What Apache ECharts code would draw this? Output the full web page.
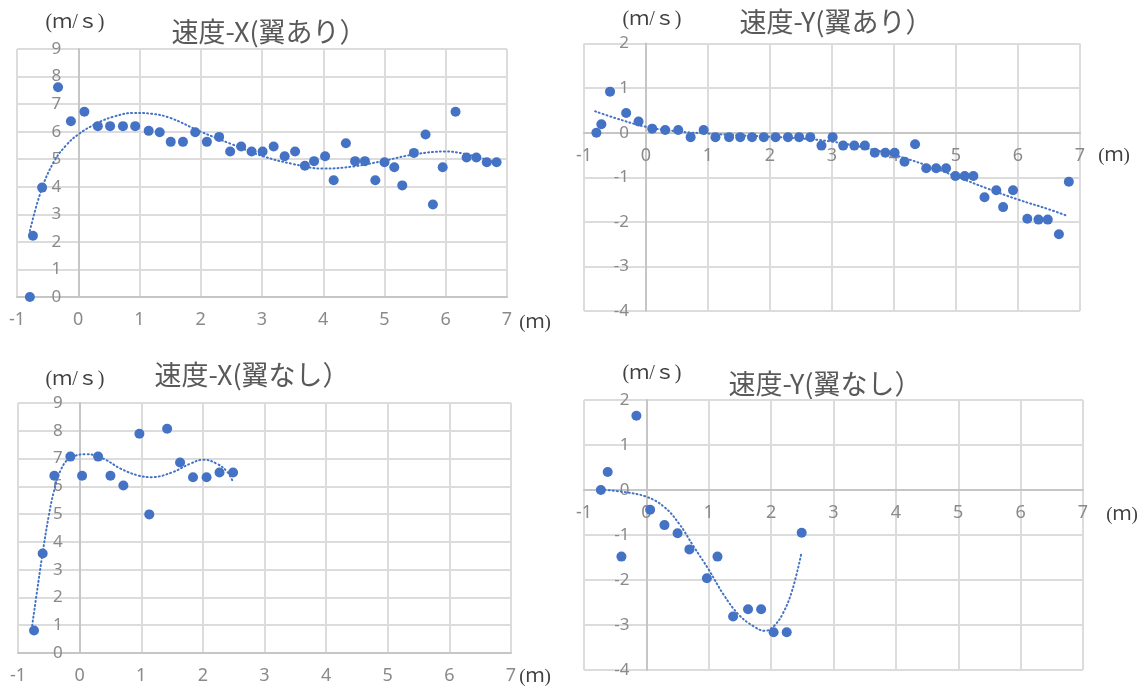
<!DOCTYPE html>
<html>
<head>
<meta charset="utf-8">
<script src="https://cdn.jsdelivr.net/npm/echarts@6/dist/echarts.min.js"></script>
<style>
  html, body { margin: 0; padding: 0; background: #fff; }
  #chart { width: 1145px; height: 690px; }
</style>
</head>
<body>
<div id="chart"></div>
<script>
// 速度-X(翼あり)
const posXWing = [-0.79, -0.74, -0.59, -0.33, -0.12, 0.10, 0.32, 0.52, 0.73, 0.93, 1.15, 1.33, 1.51, 1.71, 1.91, 2.10, 2.30, 2.48, 2.66, 2.83, 3.01, 3.19, 3.37, 3.54, 3.70, 3.85, 4.03, 4.17, 4.37, 4.52, 4.68, 4.85, 5.00, 5.16, 5.29, 5.48, 5.67, 5.79, 5.95, 6.16, 6.34, 6.50, 6.67, 6.83]
const velXWing = [0, 2.22, 3.97, 7.61, 6.38, 6.72, 6.20, 6.20, 6.20, 6.20, 6.03, 5.98, 5.63, 5.63, 5.98, 5.63, 5.81, 5.28, 5.46, 5.28, 5.28, 5.46, 5.11, 5.28, 4.76, 4.93, 5.11, 4.24, 5.58, 4.93, 4.93, 4.24, 4.89, 4.71, 4.05, 5.23, 5.90, 3.36, 4.71, 6.72, 5.06, 5.06, 4.89, 4.89]
const trendPosXWing = [-0.79, -0.6, -0.4, -0.2, 0, 0.3, 0.6, 0.9, 1.2, 1.5, 2.0, 2.5, 3.0, 3.5, 4.0, 4.5, 5.0, 5.5, 6.0, 6.3, 6.6, 6.83]
const trendVelXWing = [2.4, 3.9, 4.9, 5.5, 5.9, 6.3, 6.56, 6.68, 6.65, 6.5, 6.0, 5.55, 5.12, 4.83, 4.66, 4.74, 4.95, 5.18, 5.28, 5.2, 5.03, 4.85]

// 速度-Y(翼あり)
const posYWing = [-0.80, -0.72, -0.58, -0.32, -0.12, 0.10, 0.31, 0.52, 0.72, 0.93, 1.12, 1.34, 1.52, 1.71, 1.90, 2.09, 2.29, 2.47, 2.65, 2.83, 3.01, 3.18, 3.36, 3.53, 3.69, 3.86, 4.01, 4.17, 4.34, 4.52, 4.68, 4.84, 4.99, 5.14, 5.28, 5.46, 5.65, 5.76, 5.92, 6.15, 6.33, 6.48, 6.66, 6.82]
const velYWing = [0, 0.19, 0.92, 0.44, 0.25, 0.09, 0.06, 0.06, -0.10, 0.06, -0.10, -0.10, -0.10, -0.10, -0.10, -0.10, -0.10, -0.10, -0.10, -0.29, -0.10, -0.29, -0.29, -0.29, -0.45, -0.45, -0.45, -0.65, -0.26, -0.80, -0.80, -0.80, -0.97, -0.97, -0.97, -1.45, -1.29, -1.67, -1.29, -1.93, -1.95, -1.95, -2.28, -1.10]
const trendPosYWing = [-0.82, -0.5, 0, 0.5, 1, 1.5, 2, 2.5, 3, 3.5, 4, 4.5, 5, 5.5, 6, 6.5, 6.8]
const trendVelYWing = [0.48, 0.33, 0.13, 0.03, -0.02, -0.06, -0.09, -0.13, -0.2, -0.33, -0.5, -0.72, -0.98, -1.25, -1.5, -1.72, -1.87]

// 速度-X(翼なし)
const posXNoWing = [-0.74, -0.60, -0.41, -0.15, 0.04, 0.30, 0.50, 0.71, 0.97, 1.13, 1.42, 1.63, 1.84, 2.06, 2.27, 2.49]
const velXNoWing = [0.81, 3.58, 6.38, 7.07, 6.38, 7.07, 6.38, 6.03, 7.89, 4.99, 8.07, 6.86, 6.33, 6.33, 6.50, 6.50]
const trendPosXNoWing = [-0.77, -0.67, -0.59, -0.5, -0.42, -0.31, -0.17, 0.11, 0.39, 0.67, 0.95, 1.17, 1.51, 1.79, 2.01, 2.23, 2.4, 2.49]
const trendVelXNoWing = [0.99, 2.55, 3.75, 4.95, 5.79, 6.57, 6.99, 7.16, 6.99, 6.63, 6.39, 6.33, 6.51, 6.81, 6.96, 6.81, 6.51, 6.15]

// 速度-Y(翼なし)
const posYNoWing = [-0.73, -0.62, -0.40, -0.16, 0.06, 0.29, 0.50, 0.69, 0.97, 1.14, 1.39, 1.63, 1.84, 2.04, 2.25, 2.49]
const velYNoWing = [0, 0.40, -1.48, 1.65, -0.44, -0.78, -0.96, -1.32, -1.96, -1.48, -2.81, -2.65, -2.65, -3.16, -3.16, -0.95]
const trendPosYNoWing = [-0.73, -0.38, 0, 0.28, 0.52, 0.76, 1.0, 1.24, 1.48, 1.72, 1.9, 2.04, 2.19, 2.34, 2.48]
const trendVelYNoWing = [0.01, -0.04, -0.15, -0.37, -0.74, -1.26, -1.77, -2.33, -2.77, -3.03, -3.13, -3.03, -2.74, -2.22, -1.44]

const titles = ['速度-X(翼あり）', '速度-Y(翼あり）', '速度-X(翼なし）', '速度-Y(翼なし）']
const xRange = [-1, 7]
const yRangeX = [0, 9]
const yRangeY = [-4, 2]

const BLUE = '#4472C4'
const zip = (xs, ys) => xs.map((x, i) => [x, ys[i]])

const panels = [
  { grid: { left: 17, top: 49, width: 490, height: 248 }, y: yRangeX, pts: zip(posXWing, velXWing), trend: zip(trendPosXWing, trendVelXWing),
    title: [269, 32], unitY: [75, 23], unitX: [535, 323] },
  { grid: { left: 584, top: 43.5, width: 496, height: 267.5 }, y: yRangeY, pts: zip(posYWing, velYWing), trend: zip(trendPosYWing, trendVelYWing),
    title: [836, 22], unitY: [652, 20], unitX: [1114, 156] },
  { grid: { left: 18, top: 403, width: 493, height: 250 }, y: yRangeX, pts: zip(posXNoWing, velXNoWing), trend: zip(trendPosXNoWing, trendVelXNoWing),
    title: [252, 375], unitY: [75, 380], unitX: [535, 677] },
  { grid: { left: 584, top: 400, width: 499, height: 270 }, y: yRangeY, pts: zip(posYNoWing, velYNoWing), trend: zip(trendPosYNoWing, trendVelYNoWing),
    title: [825, 384], unitY: [652, 374], unitX: [1122, 515] }
]

const labelFont = 'Noto Sans, sans-serif'
const splitStyle = { lineStyle: { color: '#dcdcdc', width: 2 } }
const axisLineStyle = { show: true, onZero: false, lineStyle: { color: '#c6c6c6', width: 2 } }

// Excel puts each axis at the other's zero: shift the axes inward by that distance
const zeroShiftX = p => p.grid.width * (0 - xRange[0]) / (xRange[1] - xRange[0])
const zeroShiftY = p => p.grid.height * (0 - p.y[0]) / (p.y[1] - p.y[0])

let option = {
  animation: false,
  backgroundColor: '#fff',
  grid: panels.map(p => p.grid),
  xAxis: panels.map((p, i) => ({
    type: 'value', gridIndex: i, min: xRange[0], max: xRange[1], interval: 1,
    position: 'bottom', offset: -zeroShiftY(p),
    axisLine: axisLineStyle,
    axisTick: { show: false },
    axisLabel: { fontSize: 18, color: '#8a8a8a', margin: 14, fontFamily: labelFont },
    splitLine: splitStyle
  })),
  yAxis: panels.map((p, i) => ({
    type: 'value', gridIndex: i, min: p.y[0], max: p.y[1], interval: 1,
    position: 'left', offset: -zeroShiftX(p),
    axisLine: axisLineStyle,
    axisTick: { show: false },
    axisLabel: { fontSize: 17, color: '#8a8a8a', margin: 17, fontFamily: labelFont },
    splitLine: splitStyle
  })),
  series: [],
  graphic: []
}

panels.forEach((p, i) => {
  option.series.push({
    type: 'line', xAxisIndex: i, yAxisIndex: i, data: p.trend,
    smooth: 0.4, showSymbol: false, silent: true,
    lineStyle: { color: BLUE, width: 2, type: [1, 3], cap: 'round' }
  })
  option.series.push({
    type: 'scatter', xAxisIndex: i, yAxisIndex: i, data: p.pts,
    symbolSize: 10, itemStyle: { color: BLUE, opacity: 1 }
  })
  option.graphic.push({
    type: 'text', x: p.title[0], y: p.title[1],
    style: { text: titles[i], fill: '#595959', font: '27px "Noto Sans CJK JP", sans-serif', align: 'center', verticalAlign: 'middle' }
  })
  option.graphic.push({
    type: 'text', x: p.unitY[0], y: p.unitY[1],
    style: { text: '(ｍ/ｓ)', fill: '#404040', font: '20px "Liberation Serif", "Noto Sans CJK JP", serif', align: 'center', verticalAlign: 'middle' }
  })
  option.graphic.push({
    type: 'text', x: p.unitX[0], y: p.unitX[1],
    style: { text: '(ｍ)', fill: '#404040', font: '19px "Liberation Serif", "Noto Sans CJK JP", serif', align: 'center', verticalAlign: 'middle' }
  })
})

const myChart = echarts.init(document.getElementById('chart'))
myChart.setOption(option)
</script>
</body>
</html>
